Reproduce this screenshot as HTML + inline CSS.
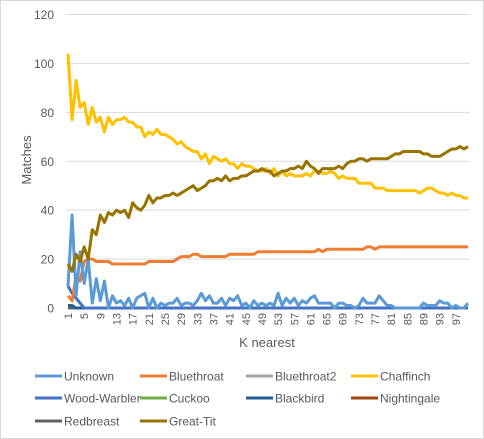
<!DOCTYPE html>
<html><head><meta charset="utf-8"><style>
body{margin:0;background:#fff}
svg{display:block;font-family:"Liberation Sans",sans-serif}
</style></head><body>
<svg id="chart" width="484" height="439" xmlns="http://www.w3.org/2000/svg">
<rect x="0.5" y="0.5" width="483" height="438" fill="#fff" stroke="#d9d9d9"/>
<g id="grid"></g><g id="series"></g><g id="xticks"></g><g id="yticks"></g>
<text x="0" y="0" transform="translate(31,160) rotate(-90)" text-anchor="middle" font-size="13" fill="#595959">Matches</text>
<text x="267" y="347" text-anchor="middle" font-size="13" fill="#595959">K nearest</text>
<g id="legend"></g>
</svg>
<script>
const seriesNames=["Unknown","Bluethroat","Bluethroat2","Chaffinch","Wood-Warbler","Cuckoo","Blackbird","Nightingale","Redbreast","Great-Tit"];
const seriesColors=["#5B9BD5","#ED7D31","#A5A5A5","#FFC000","#4472C4","#70AD47","#255E91","#9E480E","#636363","#997300"];
const yTicks=[0,20,40,60,80,100,120];
const unknown=[9,38,5,23,10,20,2,12,3,11,0,5,2,3,1,4,0,4,5,6,0,4,0,2,1,2,2,4,1,2,2,1,3,6,3,5,2,2,4,1,4,3,5,1,2,0,3,1,2,1,2,1,6,1,4,2,4,1,3,2,4,5,2,2,2,2,0,2,2,1,1,0,1,4,2,2,2,5,3,1,1,0,0,0,0,0,0,0,2,1,1,1,3,2,2,0,1,0,0,2];
const bluethroat=[5,3,13,11,19,20,20,19,19,19,19,18,18,18,18,18,18,18,18,18,19,19,19,19,19,19,19,20,21,21,21,22,22,21,21,21,21,21,21,21,22,22,22,22,22,22,22,23,23,23,23,23,23,23,23,23,23,23,23,23,23,23,24,23,24,24,24,24,24,24,24,24,24,24,25,25,24,25,25,25,25,25,25,25,25,25,25,25,25,25,25,25,25,25,25,25,25,25,25,25];
const chaffinch=[104,77,93,82,84,75,82,76,78,72,78,75,77,77,78,76,76,74,74,70,72,71,73,71,71,70,69,67,68,66,65,64,64,61,63,59,62,61,60,61,59,59,57,59,58,58,57,56,56,57,55,57,54,56,54,55,54,54,54,55,54,56,56,55,55,56,55,53,54,53,53,53,51,51,51,51,49,49,49,48,48,48,48,48,48,48,48,47,48,49,49,48,47,47,46,47,46,46,45,45];
const woodWarbler=[9,6,4,2,0].concat(new Array(95).fill(0));
const blackbird=[1,1,0].concat(new Array(97).fill(0));
const greatTit=[18,15,22,19,25,20,32,30,38,35,39,38,40,39,40,37,43,41,40,42,46,43,45,45,46,46,47,46,47,48,49,50,48,49,50,52,52,53,52,54,52,53,53,54,54,55,56,56,57,56,56,54,55,56,56,57,57,58,57,60,58,57,55,57,57,57,57,58,57,59,60,60,61,61,60,61,61,61,61,61,62,63,63,64,64,64,64,64,63,63,62,62,62,63,64,65,65,66,65,66];
const zeros=new Array(100).fill(0);
const seriesData=[unknown,bluethroat,zeros,chaffinch,woodWarbler,zeros,blackbird,zeros,zeros,greatTit];
const NS="http://www.w3.org/2000/svg";
const X0=66,X1=470,Y0=308,Y1=14.5,N=100;
const xs=i=>X0+(i+0.5)*(X1-X0)/N;
const ys=v=>Y0-(v/120)*(Y0-Y1);
function mk(t,a){const e=document.createElementNS(NS,t);for(const k in a)e.setAttribute(k,a[k]);return e;}
const grid=document.getElementById('grid'),yt=document.getElementById('yticks');
yTicks.forEach(v=>{
 if(v>0){const l=mk('line',{x1:X0,x2:X1,y1:ys(v),y2:ys(v),stroke:'#d9d9d9','stroke-width':1});
 
 
 grid.appendChild(l);}
 const t=mk('text',{x:54,y:ys(v)+4.5,'text-anchor':'end','font-size':12,fill:'#595959'});t.textContent=v;
 
 
 yt.appendChild(t);
});
const sg=document.getElementById('series');
const order=[2,5,7,8,6,4,1,0,3,9];
order.forEach(s=>{
 const d=seriesData[s].map((v,i)=>(i?'L':'M')+xs(i).toFixed(2)+' '+ys(v).toFixed(2)).join(' ');
 const p=mk('path',{d:d,fill:'none',stroke:seriesColors[s],'stroke-width':3,'stroke-linejoin':'round'});
 
 
 sg.appendChild(p);
});
const xt=document.getElementById('xticks');
for(let i=0;i<N;i+=4){
 const t=mk('text',{'transform':'translate('+(xs(i)+4)+',313) rotate(-90)','text-anchor':'end','font-size':11,fill:'#595959'});
 t.textContent=i+1;
 
 
 xt.appendChild(t);
}
const lg=document.getElementById('legend');
const colX=[35,140,246,351],rowY=[376,398,421];
seriesNames.forEach((n,i)=>{
 const x=colX[i%4],y=rowY[Math.floor(i/4)];
 const g=mk('g',{});
 
 
 g.appendChild(mk('line',{x1:x,x2:x+27,y1:y,y2:y,stroke:seriesColors[i],'stroke-width':3}));
 const t=mk('text',{x:x+29,y:y+4.5,'font-size':12,fill:'#595959'});t.textContent=n;
 g.appendChild(t);lg.appendChild(g);
});
</script>
</body></html>
